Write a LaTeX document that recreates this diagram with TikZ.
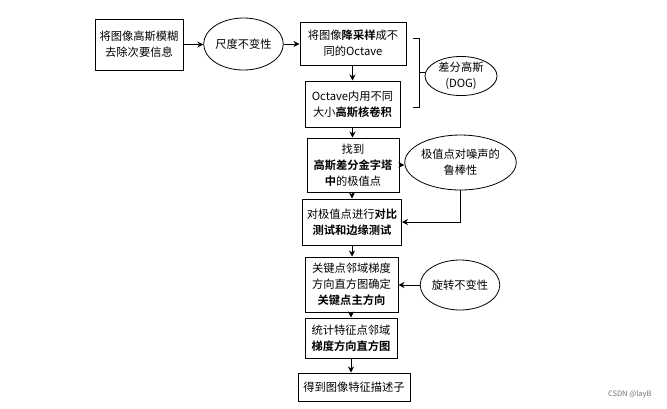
\documentclass[tikz,border=0pt]{standalone}
\usepackage{fontspec}
\setmainfont{Noto Sans CJK SC}[BoldFont={Noto Sans CJK SC Bold}]
\usetikzlibrary{arrows.meta,shapes,positioning,calc}
\tikzset{
    stepbox/.style={draw=black,line width=1bp,rectangle,inner sep=0pt,align=center,font=\fontsize{11.3}{16}\selectfont},
    propell/.style={draw=black,line width=0.8bp,ellipse,inner sep=0pt,align=center,font=\fontsize{11.3}{16}\selectfont},
    arr/.style={draw=black,line width=1bp,-{Stealth[length=6bp,width=6bp]}}
}
\begin{document}
\begin{tikzpicture}[x=1bp,y=-1bp]
            \useasboundingbox (0,0) rectangle (667,408);
            \node[stepbox,minimum width=88bp,minimum height=51bp] (blur) at (139,44.5) {将图像高斯模糊\\去除次要信息};
            \node[propell,minimum width=77bp,minimum height=52bp] (scale) at (243.5,44) {尺度不变性};
            \node[stepbox,minimum width=106bp,minimum height=43bp] (down) at (353,43.5) {将图像\textbf{降采样}成不\\同的Octave};
            \node[stepbox,minimum width=95bp,minimum height=46bp] (conv) at (352.5,104) {Octave内用不同\\大小\textbf{高斯核卷积}};
            \node[propell,minimum width=72bp,minimum height=38bp] (dog) at (461,76) {差分高斯\\(DOG)};
            \node[stepbox,minimum width=92bp,minimum height=54bp] (peak) at (353,165) {找到\\\textbf{高斯差分金字塔}\\\textbf{中}的极值点};
            \node[propell,minimum width=90bp,minimum height=55bp] (noise) at (460.5,162.5) {极值点对噪声的\\鲁棒性};
            \node[stepbox,minimum width=99bp,minimum height=46bp] (test) at (352,222) {对极值点进行\textbf{对比}\\\textbf{测试和边缘测试}};
            \node[stepbox,minimum width=93bp,minimum height=55bp] (orient) at (351.5,284.5) {关键点邻域梯度\\方向直方图确定\\\textbf{关键点主方向}};
            \node[propell,minimum width=79bp,minimum height=50bp] (rot) at (460,285) {旋转不变性};
            \node[stepbox,minimum width=92bp,minimum height=40bp] (hist) at (351,338) {统计特征点邻域\\\textbf{梯度方向直方图}};
            \node[stepbox,minimum width=112bp,minimum height=28bp] (desc) at (354,387) {得到图像特征描述子};
            \node[text=black!55,font=\fontsize{7.5}{8}\selectfont,anchor=east] (mark) at (655,394) {CSDN @layB};
            \coordinate (bt) at (413,38);
            \coordinate (bb) at (413,107);
            \coordinate (bm) at (419,72.5);
            \draw[line width=1bp] (bt) -- ++(6,0) -- ($(bb)+(6,0)$) -- (bb);
            \draw[line width=1bp] (bm) -- (dog.west |- bm);
            \draw[arr] (blur.east) -- (blur.east -| scale.west);
            \draw[arr] (scale.east) -- (scale.east -| down.west);
            \draw[arr] (conv.north |- down.south) -- (conv.north);
            \draw[arr] (conv.south) -- (conv.south |- peak.north);
            \draw[arr] (peak.east) -- (peak.east -| noise.west);
            \draw[arr] (test.north |- peak.south) -- (test.north);
            \draw[arr] (noise.south) |- (test.east);
            \draw[arr] (test.south) -- (test.south |- orient.north);
            \draw[arr] (rot.west) -- (rot.west -| orient.east);
            \draw[arr] (hist.north |- orient.south) -- (hist.north);
            \draw[arr] (hist.south) -- (hist.south |- desc.north);
        \end{tikzpicture}
\end{document}
